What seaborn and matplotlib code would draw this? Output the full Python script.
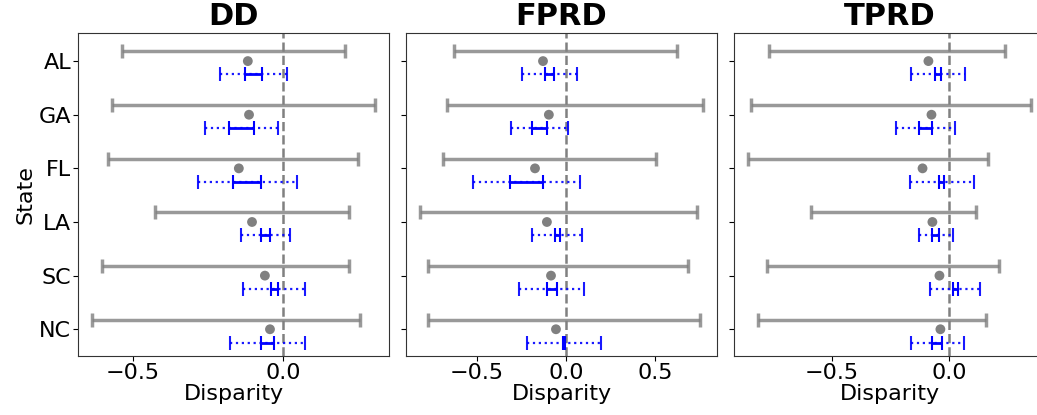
import numpy as np
import pandas as pd
import matplotlib
matplotlib.use('Agg')
import matplotlib.pyplot as plt
from matplotlib.ticker import MultipleLocator
import seaborn as sns

# states, top to bottom
states = ['AL', 'GA', 'FL', 'LA', 'SC', 'NC']
metrics = ['DD', 'FPRD', 'TPRD']

# gray: point estimate and wide interval
dd_point = [-0.117, -0.113, -0.147, -0.103, -0.060, -0.043]
dd_gray_lo = [-0.537, -0.570, -0.583, -0.427, -0.603, -0.637]
dd_gray_hi = [0.207, 0.307, 0.250, 0.220, 0.220, 0.257]
# blue: outer (dotted) and inner (solid) intervals
dd_blue_lo = [-0.210, -0.260, -0.283, -0.140, -0.133, -0.177]
dd_blue_hi = [0.013, -0.017, 0.047, 0.023, 0.073, 0.073]
dd_inner_lo = [-0.127, -0.180, -0.167, -0.073, -0.040, -0.073]
dd_inner_hi = [-0.070, -0.097, -0.073, -0.043, -0.017, -0.030]

fprd_point = [-0.129, -0.096, -0.174, -0.107, -0.084, -0.056]
fprd_gray_lo = [-0.629, -0.669, -0.691, -0.820, -0.775, -0.775]
fprd_gray_hi = [0.624, 0.770, 0.506, 0.736, 0.685, 0.753]
fprd_blue_lo = [-0.247, -0.309, -0.522, -0.191, -0.264, -0.219]
fprd_blue_hi = [0.062, 0.011, 0.079, 0.090, 0.101, 0.197]
fprd_inner_lo = [-0.118, -0.191, -0.315, -0.062, -0.107, -0.017]
fprd_inner_hi = [-0.067, -0.107, -0.129, -0.034, -0.051, -0.006]

tprd_point = [-0.089, -0.076, -0.114, -0.072, -0.042, -0.038]
tprd_gray_lo = [-0.767, -0.843, -0.856, -0.589, -0.775, -0.814]
tprd_gray_hi = [0.237, 0.347, 0.165, 0.114, 0.212, 0.157]
tprd_blue_lo = [-0.161, -0.225, -0.169, -0.131, -0.081, -0.165]
tprd_blue_hi = [0.068, 0.025, 0.106, 0.017, 0.131, 0.064]
tprd_inner_lo = [-0.059, -0.127, -0.042, -0.072, 0.017, -0.072]
tprd_inner_hi = [-0.034, -0.072, -0.021, -0.042, 0.038, -0.030]

data = {
    'DD': (dd_point, dd_gray_lo, dd_gray_hi, dd_blue_lo, dd_blue_hi, dd_inner_lo, dd_inner_hi),
    'FPRD': (fprd_point, fprd_gray_lo, fprd_gray_hi, fprd_blue_lo, fprd_blue_hi, fprd_inner_lo, fprd_inner_hi),
    'TPRD': (tprd_point, tprd_gray_lo, tprd_gray_hi, tprd_blue_lo, tprd_blue_hi, tprd_inner_lo, tprd_inner_hi),
}

sns.set_style('ticks')
plt.rcParams['font.family'] = ['DejaVu Sans']
plt.rcParams['text.color'] = 'black'
plt.rcParams['xtick.color'] = 'black'
plt.rcParams['ytick.color'] = 'black'
plt.rcParams['axes.labelcolor'] = 'black'

fig, axes = plt.subplots(1, 3, figsize=(10.37, 4.15), dpi=100, sharey=True)
fig.subplots_adjust(left=0.0752, right=1.0077, top=0.920, bottom=0.142, wspace=0.055)

pos = np.arange(len(states))

for ax, m in zip(axes, metrics):
    point, glo, ghi, blo, bhi, ilo, ihi = [np.array(v) for v in data[m]]
    df = pd.DataFrame({'State': states, 'pos': pos, 'point': point})

    # wide gray interval
    gc = (glo + ghi) / 2
    ax.errorbar(gc, pos - 0.18, xerr=(ghi - glo) / 2, fmt='none', ecolor='gray',
                elinewidth=2.5, capsize=5, capthick=2.5, alpha=0.8)
    # gray point estimate
    sns.scatterplot(data=df, x='point', y='pos', color='gray', s=50,
                    edgecolor='none', ax=ax, zorder=3)
    # outer dotted blue interval
    bc = (blo + bhi) / 2
    eb = ax.errorbar(bc, pos + 0.25, xerr=(bhi - blo) / 2, fmt='none', ecolor='blue',
                     elinewidth=1.6, capsize=5, capthick=1.5, alpha=0.9)
    eb[2][0].set_linestyle(':')
    # inner solid blue interval
    ic = (ilo + ihi) / 2
    ax.errorbar(ic, pos + 0.25, xerr=(ihi - ilo) / 2, fmt='none', ecolor='blue',
                elinewidth=2, capsize=5, capthick=1.5)

    ax.axvline(0, color='gray', linestyle='--', linewidth=1.8, zorder=0)
    ax.xaxis.set_major_locator(MultipleLocator(0.5))
    ax.set_title(m, fontsize=22, fontweight='bold')
    ax.set_xlabel('Disparity', fontsize=16, labelpad=1)
    ax.set_ylabel('')
    ax.tick_params(axis='both', labelsize=16, pad=1.5)
    for s in ax.spines.values():
        s.set_color('#333333')

axes[0].set_yticks(pos)
axes[0].set_yticklabels(states)
axes[0].set_ylim(5.5, -0.52)
axes[0].set_ylabel('State', fontsize=16, labelpad=2)

plt.savefig('out.png', dpi=100)
plt.close()
